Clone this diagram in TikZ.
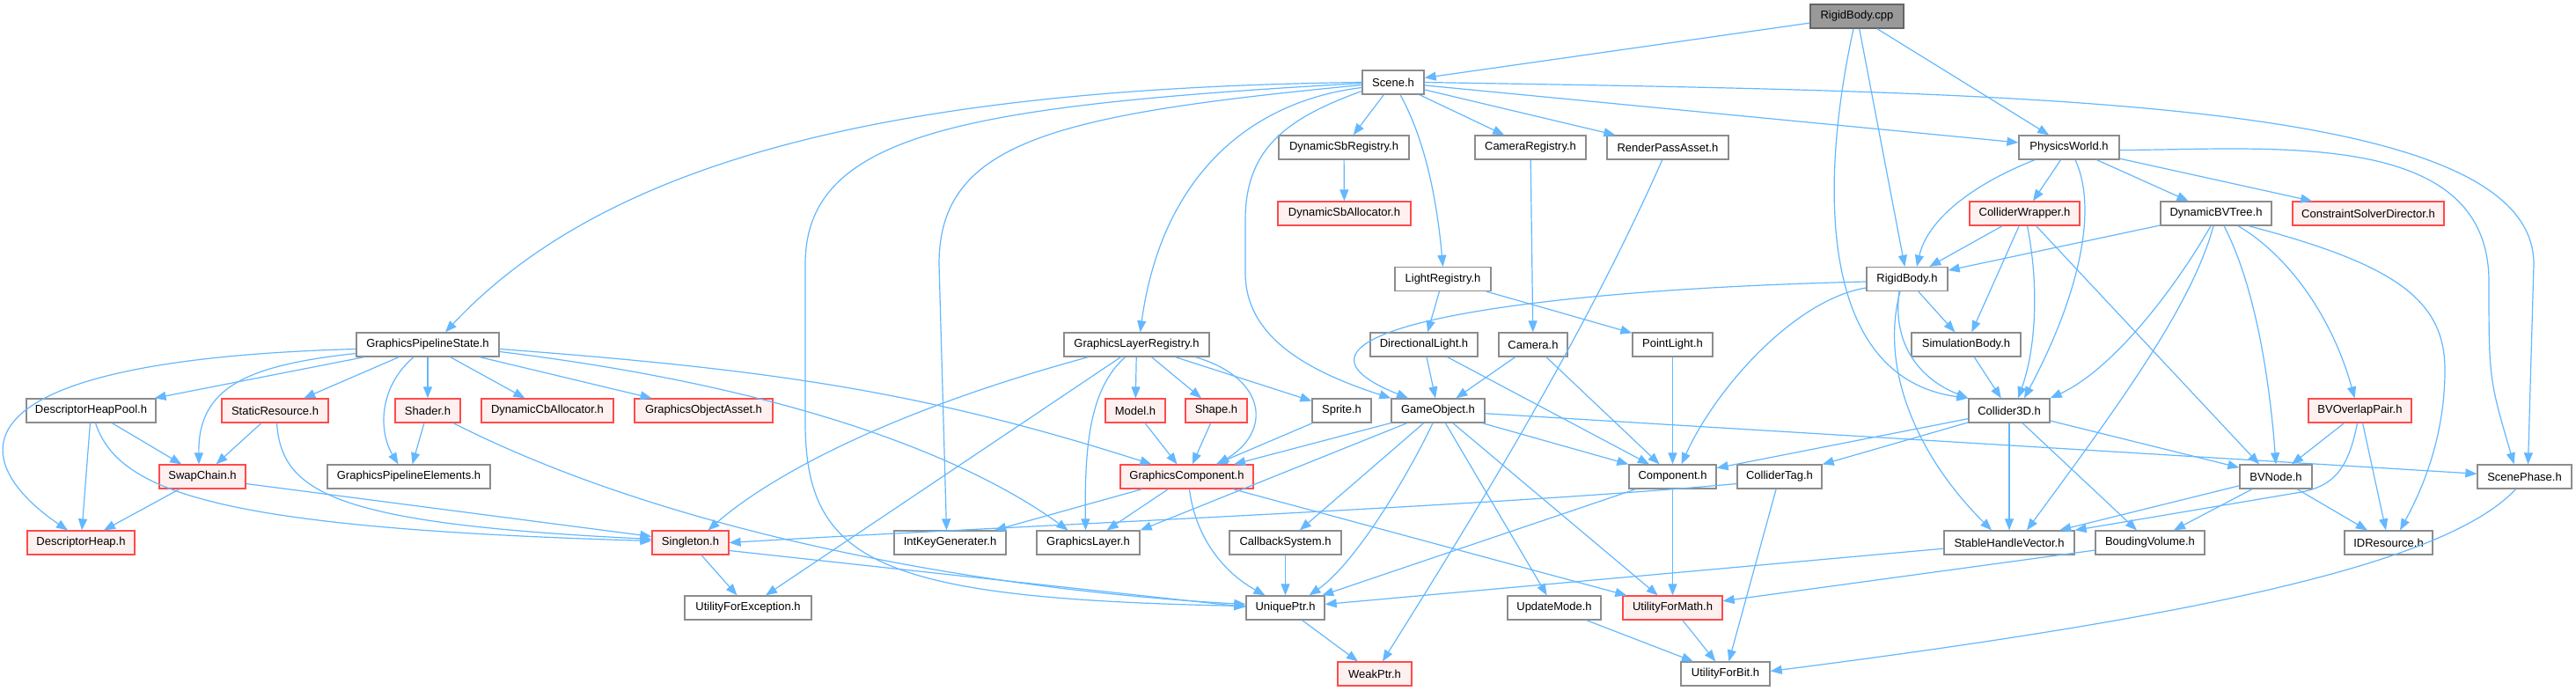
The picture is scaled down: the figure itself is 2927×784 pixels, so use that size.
\documentclass[tikz,border=0pt]{standalone}
\usepackage{fontspec}
\setmainfont{Liberation Sans}
\usepackage{tikz}
\usetikzlibrary{arrows.meta}
\definecolor{dxedge}{HTML}{63B8FF}
\definecolor{dxgray}{HTML}{8C8C8C}
\definecolor{dxred}{HTML}{FF4A4A}
\definecolor{dxpink}{HTML}{FFF0F0}
\definecolor{dxcur}{HTML}{999999}
\definecolor{dxcurline}{HTML}{666666}

\begin{document}
\begin{tikzpicture}[x=1pt,y=-1pt,font=\fontsize{13}{15}\selectfont,
    hdr/.style={draw=dxgray,line width=1.3pt,fill=white,minimum height=27pt,inner sep=0pt},
    trunc/.style={hdr,draw=dxred,line width=1.2pt,fill=dxpink},
    cur/.style={hdr,draw=dxcurline,fill=dxcur},
    inc/.style={-{Triangle[length=13pt,width=10pt]},dxedge,line width=1.2pt}]
    \path[fill=white] (0,0) rectangle (2927,784);
    \useasboundingbox (0,0) rectangle (2927,784);

    \node[cur,minimum width=106pt] (cpp) at (2110,18.5) {RigidBody.cpp};
    \node[hdr,minimum width=70pt] (scene) at (1583,93.5) {Scene.h};
    \node[hdr,minimum width=148pt] (dsbreg) at (1527,167.5) {DynamicSbRegistry.h};
    \node[hdr,minimum width=126pt] (camreg) at (1739,167.5) {CameraRegistry.h};
    \node[hdr,minimum width=138pt] (rpass) at (1895,167.5) {RenderPassAsset.h};
    \node[hdr,minimum width=114pt] (pworld) at (2351,167.5) {PhysicsWorld.h};
    \node[trunc,minimum width=151pt] (dsballoc) at (1527.5,242.5) {DynamicSbAllocator.h};
    \node[trunc,minimum width=125pt] (colwrap) at (2300.5,242.5) {ColliderWrapper.h};
    \node[hdr,minimum width=126pt] (dbvtree) at (2518,242.5) {DynamicBVTree.h};
    \node[trunc,minimum width=172pt] (csolver) at (2691,242.5) {ConstraintSolverDirector.h};
    \node[hdr,minimum width=109pt] (lightreg) at (1639.5,317) {LightRegistry.h};
    \node[hdr,minimum width=92pt] (rbody) at (2167,317) {RigidBody.h};
    \node[hdr,minimum width=162pt] (gps) at (486,391.5) {GraphicsPipelineState.h};
    \node[hdr,minimum width=165pt] (glreg) at (1291.5,391.5) {GraphicsLayerRegistry.h};
    \node[hdr,minimum width=122pt] (dlight) at (1618,391.5) {DirectionalLight.h};
    \node[hdr,minimum width=78pt] (camera) at (1742,391.5) {Camera.h};
    \node[hdr,minimum width=91pt] (plight) at (1900.5,391.5) {PointLight.h};
    \node[hdr,minimum width=124pt] (simbody) at (2234,391.5) {SimulationBody.h};
    \node[hdr,minimum width=147pt] (dhpool) at (103.5,466.5) {DescriptorHeapPool.h};
    \node[trunc,minimum width=121pt] (sres) at (312.5,466.5) {StaticResource.h};
    \node[trunc,minimum width=74pt] (shader) at (486,466.5) {Shader.h};
    \node[trunc,minimum width=150pt] (dcballoc) at (622,466.5) {DynamicCbAllocator.h};
    \node[trunc,minimum width=157pt] (goasset) at (799.5,466.5) {GraphicsObjectAsset.h};
    \node[trunc,minimum width=68pt] (model) at (1290,466.5) {Model.h};
    \node[trunc,minimum width=70pt] (shape) at (1382,466.5) {Shape.h};
    \node[hdr,minimum width=67pt] (sprite) at (1524.5,466.5) {Sprite.h};
    \node[hdr,minimum width=106pt] (gobj) at (1634,466.5) {GameObject.h};
    \node[hdr,minimum width=92pt] (col3d) at (2283,466.5) {Collider3D.h};
    \node[trunc,minimum width=117pt] (bvpair) at (2681.5,466.5) {BVOverlapPair.h};
    \node[trunc,minimum width=98pt] (swap) at (230,541.5) {SwapChain.h};
    \node[hdr,minimum width=185pt] (gpelem) at (464.5,541.5) {GraphicsPipelineElements.h};
    \node[trunc,minimum width=151pt] (gcomp) at (1348.5,541.5) {GraphicsComponent.h};
    \node[hdr,minimum width=99pt] (comp) at (1900.5,541.5) {Component.h};
    \node[hdr,minimum width=96pt] (coltag) at (2022,541.5) {ColliderTag.h};
    \node[hdr,minimum width=82pt] (bvnode) at (2586,541.5) {BVNode.h};
    \node[hdr,minimum width=107pt] (sphase) at (2868.5,541.5) {ScenePhase.h};
    \node[trunc,minimum width=122pt] (dheap) at (92,616.5) {DescriptorHeap.h};
    \node[trunc,minimum width=87pt] (single) at (784.5,616.5) {Singleton.h};
    \node[hdr,minimum width=127pt] (intkey) at (1079.5,616.5) {IntKeyGenerater.h};
    \node[hdr,minimum width=117pt] (glayer) at (1236.5,616.5) {GraphicsLayer.h};
    \node[hdr,minimum width=127pt] (cbsys) at (1460.5,616.5) {CallbackSystem.h};
    \node[hdr,minimum width=148pt] (shvec) at (2283,616.5) {StableHandleVector.h};
    \node[hdr,minimum width=124pt] (bvol) at (2443,616.5) {BoudingVolume.h};
    \node[hdr,minimum width=100pt] (idres) at (2714,616.5) {IDResource.h};
    \node[hdr,minimum width=144pt] (uexc) at (850,690.5) {UtilityForException.h};
    \node[hdr,minimum width=89pt] (uptr) at (1460.5,690.5) {UniquePtr.h};
    \node[hdr,minimum width=106pt] (umode) at (1766,690.5) {UpdateMode.h};
    \node[trunc,minimum width=113pt] (umath) at (1900.5,690.5) {UtilityForMath.h};
    \node[trunc,minimum width=84pt] (wptr) at (1562,765.5) {WeakPtr.h};
    \node[hdr,minimum width=101pt] (ubit) at (1960.5,765.5) {UtilityForBit.h};

    % RigidBody.cpp
    \draw[inc] (cpp) -- (scene);
    \draw[inc] (cpp) -- (pworld);
    \draw[inc] (cpp) -- (rbody);
    \draw[inc] ([xshift=-4pt]cpp.south) .. controls (2065,220) and (2070,430) .. (col3d.north west);

    % Scene.h
    \draw[inc] (scene) -- (dsbreg);
    \draw[inc] ([xshift=8pt]scene.south) .. controls (1620,160) and (1633,230) .. (lightreg.north);
    \draw[inc] (scene) -- (camreg);
    \draw[inc] (scene) -- (rpass);
    \draw[inc] (scene) -- (pworld);
    \draw[inc] (scene.east) .. controls (2300,105) and (2879,110) .. (2879,300) -- ([xshift=4pt]sphase.north);
    \draw[inc] (scene.west) .. controls (1050,100) and (700,170) .. ([xshift=20pt]gps.north);
    \draw[inc] ([yshift=-1pt]scene.west) .. controls (1100,120) and (915,150) .. (915,300) -- (915,480) .. controls (915,640) and (1000,680) .. ([yshift=2pt]uptr.west);
    \draw[inc] ([yshift=-3pt]scene.west) .. controls (1200,130) and (1067,160) .. (1067,300) -- ([xshift=-4pt]intkey.north);
    \draw[inc] ([yshift=-6pt]scene.west) .. controls (1420,115) and (1320,200) .. ([xshift=4pt]glreg.north);
    \draw[inc] ([yshift=-10pt]scene.west) .. controls (1460,135) and (1415,170) .. (1415,250) -- (1415,310) .. controls (1415,380) and (1480,420) .. (gobj.north west);

    % registries and lights
    \draw[inc] (dsbreg) -- (dsballoc);
    \draw[inc] (camreg) -- (camera);
    \draw[inc] (rpass) .. controls (1805,371) and (1690,562) .. (wptr);
    \draw[inc] (lightreg) -- (dlight);
    \draw[inc] (lightreg) -- (plight);
    \draw[inc] (dlight) -- (gobj);
    \draw[inc] (dlight) -- (comp);
    \draw[inc] (camera) -- (gobj);
    \draw[inc] (camera) -- (comp);
    \draw[inc] (plight) -- (comp);

    % GraphicsPipelineState.h
    \draw[inc] (gps) -- (dhpool);
    \draw[inc] ([yshift=-5pt]gps.west) .. controls (-80,410) and (-30,530) .. ([xshift=-15pt]dheap.north);
    \draw[inc] ([yshift=-10pt]gps.west) .. controls (280,415) and (225,440) .. ([xshift=-4pt]swap.north);
    \draw[inc] (gps) -- (sres);
    \draw[inc] ([xshift=-16pt]gps.south) .. controls (430,440) and (430,490) .. ([xshift=-12pt]gpelem.north);
    \draw[inc] (gps) -- (shader);
    \draw[inc] (gps) -- (dcballoc);
    \draw[inc] (gps) -- (goasset);
    \draw[inc] ([yshift=-5pt]gps.east) .. controls (880,420) and (1050,445) .. ([xshift=-40pt]gcomp.north);
    \draw[inc] ([yshift=-8pt]gps.east) .. controls (900,440) and (1100,520) .. ([xshift=-23pt]glayer.north);

    % descriptor heaps, swap chain, singleton
    \draw[inc] (dhpool) -- (swap);
    \draw[inc] (dhpool) -- (dheap);
    \draw[inc] ([xshift=5pt]dhpool.south) .. controls (135,560) and (250,600) .. ([yshift=2pt]single.west);
    \draw[inc] (sres) -- (swap);
    \draw[inc] ([xshift=2pt]sres.south) .. controls (320,560) and (380,595) .. ([yshift=4pt]single.west);
    \draw[inc] (swap) -- (dheap);
    \draw[inc] ([yshift=-8pt]swap.east) -- ([yshift=7pt]single.west);
    \draw[inc] (shader) -- (gpelem);
    \draw[inc] ([xshift=29pt]shader.south) .. controls (780,615) and (1150,672) .. ([yshift=4pt]uptr.west);
    \draw[inc] (single) -- (uexc);
    \draw[inc] ([yshift=-9pt]single.east) -- ([yshift=1pt]uptr.west);

    % GraphicsLayerRegistry.h
    \draw[inc] ([xshift=-55pt]glreg.south) .. controls (1000,470) and (870,545) .. ([xshift=20pt]single.north);
    \draw[inc] ([xshift=-18pt]glreg.south) -- ([xshift=20pt]uexc.north);
    \draw[inc] ([xshift=-13pt]glreg.south) .. controls (1240,440) and (1232,500) .. ([xshift=-3pt]glayer.north);
    \draw[inc] (glreg) -- (model);
    \draw[inc] (glreg) -- (shape);
    \draw[inc] (glreg) -- (sprite);
    \draw[inc] ([xshift=67pt]glreg.south) .. controls (1440,430) and (1445,490) .. ([xshift=35pt]gcomp.north);

    % GraphicsComponent.h
    \draw[inc] (model) -- (gcomp);
    \draw[inc] (shape) -- (gcomp);
    \draw[inc] (sprite) -- (gcomp);
    \draw[inc] (gcomp) -- (intkey);
    \draw[inc] (gcomp) -- (glayer);
    \draw[inc] ([xshift=3pt]gcomp.south) .. controls (1358,610) and (1390,650) .. ([xshift=-23pt]uptr.north);
    \draw[inc] (gcomp) -- (umath);

    % GameObject.h
    \draw[inc] (gobj) -- (gcomp);
    \draw[inc] (gobj) -- (glayer.north east);
    \draw[inc] (gobj) -- (cbsys);
    \draw[inc] ([xshift=-6pt]gobj.south) .. controls (1600,540) and (1540,640) .. ([xshift=27pt]uptr.north);
    \draw[inc] (gobj) -- (umode);
    \draw[inc] (gobj) -- (umath);
    \draw[inc] (gobj) -- (comp);
    \draw[inc] (gobj) -- (sphase);

    % bottom rows
    \draw[inc] (comp) -- (uptr);
    \draw[inc] (comp) -- (umath);
    \draw[inc] (cbsys) -- (uptr);
    \draw[inc] (uptr) -- (wptr);
    \draw[inc] (umode) -- (ubit);
    \draw[inc] (umath) -- (ubit);
    \draw[inc] (coltag) -- (ubit);
    \draw[inc] ([yshift=-8pt]coltag.west) .. controls (1700,575) and (1100,600) .. (single.east);
    \draw[inc] (shvec) -- (uptr);
    \draw[inc] (bvol) -- (umath);
    \draw[inc] ([xshift=-10pt]sphase.south) .. controls (2780,640) and (2500,700) .. ([yshift=3pt]ubit.east);

    % PhysicsWorld.h
    \draw[inc] ([xshift=-39pt]pworld.south) .. controls (2240,210) and (2190,250) .. ([xshift=11pt]rbody.north);
    \draw[inc] (pworld) -- (colwrap);
    \draw[inc] ([xshift=7pt]pworld.south) .. controls (2385,240) and (2360,340) .. ([xshift=17pt]col3d.north);
    \draw[inc] (pworld) -- (dbvtree);
    \draw[inc] (pworld) -- (csolver);
    \draw[inc] ([yshift=-3pt]pworld.east) .. controls (2583,170) and (2828,145) .. (2828,320) .. controls (2828,430) .. ([xshift=-12pt]sphase.north);

    % ColliderWrapper.h, DynamicBVTree.h
    \draw[inc] (colwrap) -- (rbody);
    \draw[inc] (colwrap) -- (simbody);
    \draw[inc] ([xshift=3pt]colwrap.south) .. controls (2318,330) and (2312,400) .. ([xshift=10pt]col3d.north);
    \draw[inc] ([xshift=13pt]colwrap.south) -- ([xshift=-19pt]bvnode.north);
    \draw[inc] (dbvtree) -- (rbody);
    \draw[inc] ([xshift=-6pt]dbvtree.south) .. controls (2470,330) and (2400,420) .. (col3d.north east);
    \draw[inc] ([xshift=-3pt]dbvtree.south) .. controls (2490,350) and (2400,470) .. ([xshift=20pt]shvec.north);
    \draw[inc] ([xshift=9pt]dbvtree.south) .. controls (2560,320) and (2578,420) .. (bvnode.north);
    \draw[inc] ([xshift=25pt]dbvtree.south) .. controls (2600,290) and (2650,360) .. ([xshift=-6pt]bvpair.north);
    \draw[inc] ([xshift=37pt]dbvtree.south) .. controls (2720,300) and (2778,340) .. (2778,420) .. controls (2778,500) and (2750,560) .. ([xshift=13pt]idres.north);

    % RigidBody.h
    \draw[inc] ([yshift=-3pt]rbody.west) .. controls (1700,330) and (1420,380) .. ([xshift=-34pt]gobj.north);
    \draw[inc] ([yshift=-10pt]rbody.west) .. controls (2040,340) and (1950,440) .. ([xshift=10pt]comp.north);
    \draw[inc] (rbody) -- (simbody);
    \draw[inc] ([xshift=-9pt]rbody.south) .. controls (2150,390) and (2180,430) .. (col3d.north west);
    \draw[inc] ([xshift=-8pt]rbody.south) .. controls (2135,420) and (2180,520) .. ([xshift=-20pt]shvec.north);
    \draw[inc] (simbody) -- (col3d);

    % Collider3D.h
    \draw[inc] (col3d) -- (comp);
    \draw[inc] (col3d) -- (coltag);
    \draw[inc] (col3d) -- (shvec);
    \draw[inc] (col3d) -- (bvol);
    \draw[inc] (col3d) -- (bvnode);

    % bounding volumes
    \draw[inc] (bvpair) -- (bvnode);
    \draw[inc] ([xshift=-3pt]bvpair.south) .. controls (2668,535) and (2650,552) .. (2615,559) -- (shvec.north east);
    \draw[inc] (bvpair) -- (idres);
    \draw[inc] (bvnode) -- (shvec);
    \draw[inc] (bvnode) -- (bvol);
    \draw[inc] (bvnode) -- (idres);
\end{tikzpicture}
\end{document}
